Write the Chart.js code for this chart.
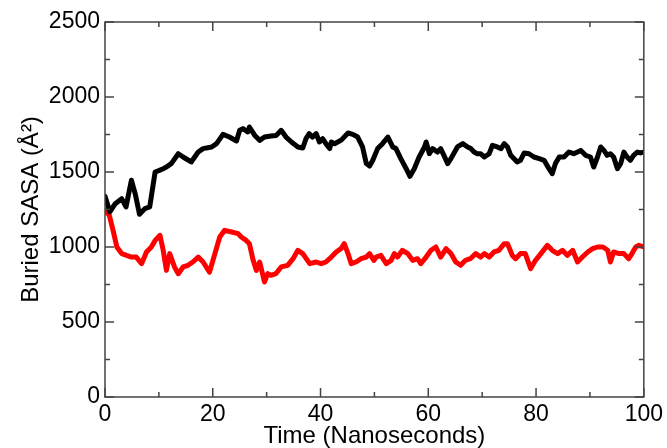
<!DOCTYPE html>
<html>
<head>
<meta charset="utf-8">
<script src="https://cdn.jsdelivr.net/npm/chart.js@4/dist/chart.umd.min.js"></script>
<style>
html,body{margin:0;padding:0;background:#fff;}
</style>
</head>
<body>
<canvas id="myChart" width="667" height="448"></canvas>
<script>
// black trace (upper)
var blackT=[0,0.9,1.9,3.1,3.9,4.9,5.6,6.4,7.4,8.3,
9.3,10.1,10.8,11.4,12.3,13.6,14.5,16.0,17.3,18.2,
19.8,20.7,21.9,23.1,24.4,25.0,25.6,26.5,26.8,27.8,
28.7,29.6,30.8,31.8,32.7,33.6,34.6,35.8,36.7,37.3,
37.9,38.5,39.2,39.8,40.4,41.0,41.7,42.0,42.6,43.8,
45.1,46.0,46.9,47.8,48.5,49.1,49.7,50.6,51.5,52.5,
53.4,54.0,54.9,55.9,56.6,57.4,58.3,59.3,59.6,60.2,
60.8,61.7,62.3,62.9,63.6,64.2,65.4,66.4,67.3,67.9,
68.5,69.1,69.7,70.4,71.3,71.9,72.8,73.5,74.1,74.7,
75.3,76.5,77.1,77.8,78.7,79.6,80.6,81.5,82.4,83.0,
83.6,84.3,85.2,86.1,87.0,88.3,89.2,90.1,90.7,91.4,
92.0,92.6,93.2,93.8,94.4,95.1,95.7,96.3,96.9,97.5,
98.1,98.8,99.4,100];
var blackV=[1338,1235,1289,1322,1267,1445,1356,1218,1256,1267,
1500,1511,1522,1533,1556,1622,1600,1567,1633,1656,
1667,1689,1751,1733,1707,1778,1789,1767,1800,1744,
1711,1733,1740,1744,1778,1733,1700,1667,1660,1722,
1756,1733,1756,1700,1722,1689,1656,1700,1689,1711,
1760,1751,1733,1667,1556,1540,1578,1656,1689,1733,
1667,1656,1589,1522,1471,1522,1600,1667,1700,1622,
1656,1633,1656,1611,1556,1589,1667,1689,1667,1656,
1633,1622,1622,1600,1622,1678,1667,1656,1689,1667,
1611,1567,1578,1627,1622,1600,1589,1578,1522,1489,
1556,1600,1600,1633,1622,1644,1611,1600,1533,1600,
1667,1644,1611,1622,1600,1522,1556,1633,1600,1578,
1611,1633,1627,1633];

// red trace (lower)
var redT=[0,0.8,1.5,2.2,3.1,4.0,4.9,5.8,6.8,7.7,
8.6,9.3,10.2,10.8,11.4,12.0,12.9,13.6,14.5,15.4,
16.3,17.3,18.2,19.4,20.4,21.3,22.2,23.5,24.7,25.3,
26.2,26.8,27.5,28.1,28.7,29.6,30.2,30.8,31.7,32.7,
33.9,34.9,35.8,36.7,38.0,39.2,40.1,41.0,42.0,42.9,
43.8,44.4,45.1,45.7,46.6,47.5,48.5,49.1,49.9,50.3,
51.2,52.2,53.1,53.7,54.3,55.2,56.2,57.1,58.0,58.6,
59.6,60.5,61.4,62.3,63.3,64.2,65.1,66.0,66.9,67.8,
68.8,69.7,70.4,71.3,72.2,73.1,74.1,74.7,75.6,76.2,
77.1,78.0,79.0,79.9,80.9,82.1,83.0,84.0,84.9,85.8,
86.8,87.7,88.6,89.6,90.5,91.4,92.4,93.3,93.8,94.4,
95.4,96.3,97.2,97.8,98.5,99.1,100];
var redV=[1244,1211,1111,1000,956,944,933,933,889,967,
1000,1044,1078,978,844,956,867,822,867,878,
900,933,900,833,956,1067,1111,1100,1089,1067,
1044,1022,911,844,900,767,822,811,822,867,
878,922,978,956,889,900,889,900,933,967,
989,1022,956,889,900,922,933,956,911,933,
944,889,911,956,933,978,956,911,922,889,
933,978,1000,933,989,956,900,878,911,922,
956,933,956,933,967,978,1022,1022,944,922,
956,956,856,911,956,1011,978,956,978,944,
978,900,933,967,989,1000,1000,978,900,967,
956,956,922,956,1000,1011,1000];

var xMin=0, xMax=100, xStep=20;
var yMin=0, yMax=2500, yStep=500;

function pts(t,v){
    return t.map(function(x,i){ return {x:x, y:v[i]}; });
}

var fontFam='"Liberation Sans", Arial, Helvetica, sans-serif';

// frame + inward ticks like the original plot
var frameTicks={
    id:'frameTicks',
    afterDraw:function(chart){
        var ctx=chart.ctx, a=chart.chartArea;
        var xs=chart.scales.x, ys=chart.scales.y;
        ctx.save();
        ctx.strokeStyle='#444';
        ctx.lineWidth=1.5;
        ctx.strokeRect(a.left,a.top,a.right-a.left,a.bottom-a.top);
        ctx.beginPath();
        var v,p,len;
        for(v=xMin; v<=xMax; v+=xStep/2){
            p=xs.getPixelForValue(v);
            len=(v%xStep===0)?9:5;
            ctx.moveTo(p,a.bottom); ctx.lineTo(p,a.bottom-len);
            ctx.moveTo(p,a.top); ctx.lineTo(p,a.top+len);
        }
        for(v=yMin; v<=yMax; v+=yStep/2){
            p=ys.getPixelForValue(v);
            len=(v%yStep===0)?9:5;
            ctx.moveTo(a.left,p); ctx.lineTo(a.left+len,p);
            ctx.moveTo(a.right,p); ctx.lineTo(a.right-len,p);
        }
        ctx.stroke();
        ctx.restore();
    }
};

var ctx=document.getElementById('myChart').getContext('2d');
var myChart=new Chart(ctx,{
    type:'line',
    data:{
        datasets:[{
            data:pts(blackT,blackV),
            borderColor:'#000',
            borderWidth:5,
            borderJoinStyle:'round',
            borderCapStyle:'round',
            pointRadius:0,
            tension:0
        },{
            data:pts(redT,redV),
            borderColor:'#ff0000',
            borderWidth:5,
            borderJoinStyle:'round',
            borderCapStyle:'round',
            pointRadius:0,
            tension:0
        }]
    },
    options:{
        responsive:false,
        animation:false,
        devicePixelRatio:1,
        layout:{padding:{top:22,right:23,left:0,bottom:0}},
        plugins:{legend:{display:false},tooltip:{enabled:false}},
        scales:{
            x:{
                type:'linear',
                min:xMin,max:xMax,
                grid:{display:false,drawTicks:false},
                border:{display:false},
                ticks:{stepSize:xStep,padding:4,color:'#000',maxRotation:0,
                    font:{family:fontFam,size:23},
                    callback:function(v){ return String(v); }},
                title:{display:true,text:'Time (Nanoseconds)',color:'#000',
                    font:{family:fontFam,size:24},padding:{top:0,bottom:-3}},
                afterFit:function(s){ s.height=51; }
            },
            y:{
                min:yMin,max:yMax,
                grid:{display:false,drawTicks:false},
                border:{display:false},
                ticks:{stepSize:yStep,padding:5,color:'#000',
                    font:{family:fontFam,size:23},
                    callback:function(v){ return String(v); }},
                title:{display:true,text:'Buried SASA (\u00C5\u00B2)',color:'#000',
                    font:{family:fontFam,size:24},padding:{top:17,bottom:0}},
                afterFit:function(s){ s.width=105; }
            }
        }
    },
    plugins:[frameTicks]
});
</script>
</body>
</html>
